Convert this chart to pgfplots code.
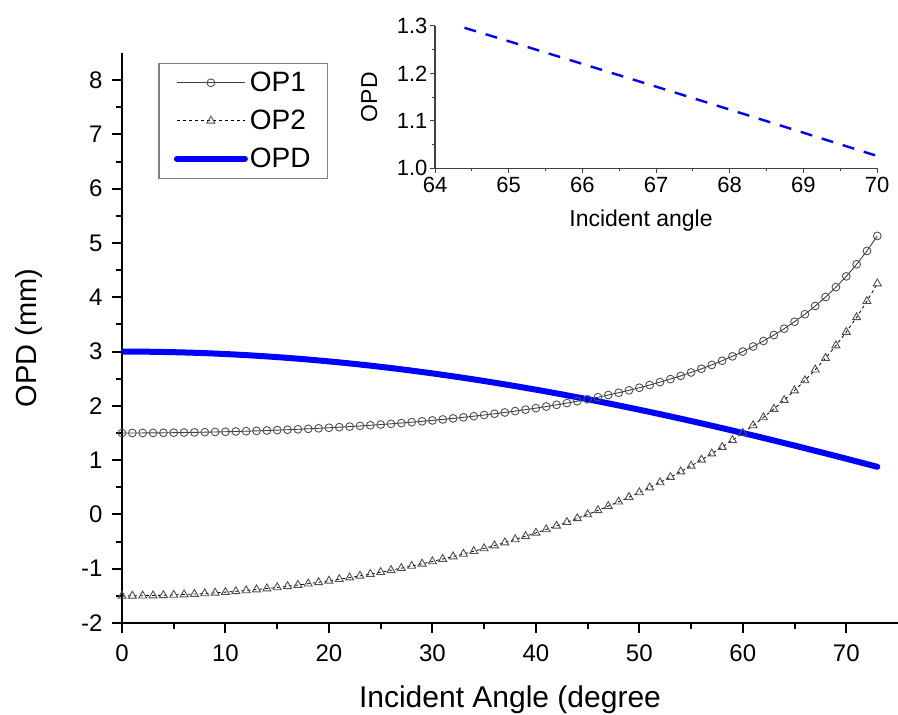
\documentclass[border=0pt]{standalone}
\usepackage{pgfplots}
\pgfplotsset{compat=1.18}
\usepackage{fontspec}
\setmainfont{Liberation Sans}
\definecolor{opdblue}{RGB}{0,0,255}
\definecolor{mk}{RGB}{80,80,80}

\pgfplotstableread{
x op1 op2 opd
0 1.5000 -1.5000 3.0000
1 1.5002 -1.4993 2.9995
2 1.5009 -1.4973 2.9982
3 1.5021 -1.4938 2.9959
4 1.5037 -1.4890 2.9927
5 1.5057 -1.4829 2.9886
6 1.5083 -1.4753 2.9836
7 1.5113 -1.4663 2.9776
8 1.5148 -1.4560 2.9708
9 1.5187 -1.4444 2.9631
10 1.5232 -1.4312 2.9544
11 1.5281 -1.4168 2.9449
12 1.5335 -1.4009 2.9344
13 1.5395 -1.3836 2.9231
14 1.5459 -1.3650 2.9109
15 1.5529 -1.3449 2.8978
16 1.5605 -1.3233 2.8838
17 1.5685 -1.3004 2.8689
18 1.5772 -1.2760 2.8532
19 1.5864 -1.2502 2.8366
20 1.5963 -1.2228 2.8191
21 1.6067 -1.1940 2.8007
22 1.6178 -1.1638 2.7816
23 1.6295 -1.1320 2.7615
24 1.6420 -1.0986 2.7406
25 1.6551 -1.0638 2.7189
26 1.6689 -1.0275 2.6964
27 1.6835 -0.9895 2.6730
28 1.6989 -0.9499 2.6488
29 1.7150 -0.9089 2.6239
30 1.7321 -0.8660 2.5981
31 1.7499 -0.8216 2.5715
32 1.7688 -0.7753 2.5441
33 1.7885 -0.7275 2.5160
34 1.8093 -0.6778 2.4871
35 1.8312 -0.6263 2.4575
36 1.8541 -0.5730 2.4271
37 1.8782 -0.5177 2.3959
38 1.9035 -0.4605 2.3640
39 1.9301 -0.4013 2.3314
40 1.9581 -0.3400 2.2981
41 1.9875 -0.2766 2.2641
42 2.0185 -0.2109 2.2294
43 2.0510 -0.1431 2.1941
44 2.0853 -0.0727 2.1580
45 2.1213 0.0000 2.1213
46 2.1593 0.0753 2.0840
47 2.1994 0.1534 2.0460
48 2.2417 0.2343 2.0074
49 2.2864 0.3182 1.9682
50 2.3336 0.4052 1.9284
51 2.3835 0.4955 1.8880
52 2.4364 0.5894 1.8470
53 2.4925 0.6871 1.8054
54 2.5520 0.7886 1.7634
55 2.6152 0.8945 1.7207
56 2.6824 1.0048 1.6776
57 2.7541 1.1202 1.6339
58 2.8306 1.2408 1.5898
59 2.9124 1.3673 1.5451
60 3.0000 1.5000 1.5000
61 3.0940 1.6396 1.4544
62 3.1951 1.7867 1.4084
63 3.3040 1.9420 1.3620
64 3.4218 2.1067 1.3151
65 3.5493 2.2814 1.2679
66 3.6879 2.4677 1.2202
67 3.8390 2.6668 1.1722
68 4.0042 2.8804 1.1238
69 4.1856 3.1105 1.0751
70 4.3857 3.3596 1.0261
71 4.6073 3.6306 0.9767
72 4.8541 3.9270 0.9271
73 5.1304 4.2533 0.8771
}\maindata

\pgfplotstableread{
x opd
64.4 1.2962
65 1.2679
66 1.2202
67 1.1722
68 1.1238
69 1.0751
70 1.0261
}\insetdata

\begin{document}
\begin{tikzpicture}
\begin{axis}[
  at={(122bp,92bp)}, anchor=south west,
  scale only axis, width=776bp, height=570bp,
  xmin=0, xmax=75, ymin=-2, ymax=8.5,
  axis x line*=bottom, axis y line*=left,
  axis line style={line width=2.2bp, black},
  xtick={0,10,...,70}, ytick={-2,-1,...,8},
  minor x tick num=1, minor y tick num=1,
  tick align=outside,
  major tick length=10bp, minor tick length=6bp,
  every tick/.style={line width=2bp, black},
  /pgf/number format/assume math mode=true,
  ticklabel style={font=\fontsize{24bp}{28bp}\selectfont},
  xticklabel style={yshift=-8bp},
  yticklabel style={xshift=-6bp},
  xlabel={Incident Angle (degree},
  ylabel={OPD (mm)},
  xlabel style={font=\fontsize{30bp}{34bp}\selectfont, at={(axis description cs:0.5,-0.135)}, anchor=center},
  ylabel style={font=\fontsize{29bp}{34bp}\selectfont, at={(axis description cs:-0.12,0.5)}, anchor=center},
  legend style={at={(axis description cs:0.0468,0.983)}, anchor=north west,
    draw=gray, line width=1.2bp, fill=white,
    font=\fontsize{28bp}{32bp}\selectfont,
    inner xsep=15bp, inner ysep=7bp, row sep=13bp,
    /tikz/every even column/.append style={column sep=8bp}},
  legend cell align=left,
  legend image code/.code={
    \draw[mark repeat=2,mark phase=2,#1] plot coordinates {(0bp,0bp)(34bp,0bp)(68bp,0bp)};
  },
]
\addplot[color=darkgray, line width=0.9bp, mark=o, mark size=3.9bp,
  mark options={draw=mk, fill=white, line width=0.9bp, solid}]
  table[x=x,y=op1]{\maindata};
\addlegendentry{OP1}
\addplot[color=black, line width=0.8bp, dashed, mark=triangle, mark size=4.6bp,
  mark options={draw=mk, fill=white, line width=0.9bp, solid}]
  table[x=x,y=op2]{\maindata};
\addlegendentry{OP2}
\addplot[color=opdblue, line width=6bp, line cap=round, no marks, smooth]
  table[x=x,y=opd]{\maindata};
\addlegendentry{OPD}
\end{axis}

\begin{axis}[
  at={(435bp,546.7bp)}, anchor=south west,
  scale only axis, width=442bp, height=142.3bp,
  xmin=64, xmax=70, ymin=1.0, ymax=1.3,
  axis x line*=bottom, axis y line*=left,
  axis line style={line width=1.2bp, darkgray},
  xtick={64,65,...,70}, ytick={1.0,1.1,1.2,1.3},
  minor x tick num=1, minor y tick num=1,
  tick align=outside,
  major tick length=5bp, minor tick length=3bp,
  every tick/.style={line width=1bp, darkgray},
  /pgf/number format/assume math mode=true,
  yticklabel={\pgfmathprintnumber[fixed,fixed zerofill,precision=1]{\tick}},
  ticklabel style={font=\fontsize{22bp}{26bp}\selectfont},
  yticklabel style={xshift=1bp},
  xlabel={Incident angle},
  ylabel={OPD},
  label style={font=\fontsize{23bp}{26bp}\selectfont},
  xlabel style={at={(axis description cs:0.466,-0.37)}, anchor=center},
  ylabel style={at={(axis description cs:-0.149,0.5)}, anchor=center},
]
\addplot[color=opdblue, line width=2.4bp, dash pattern=on 12bp off 10bp, no marks]
  table[x=x,y=opd]{\insetdata};
\end{axis}
\pgfresetboundingbox
\path[use as bounding box] (0bp,0bp) rectangle (898bp,715bp);
\end{tikzpicture}
\end{document}
